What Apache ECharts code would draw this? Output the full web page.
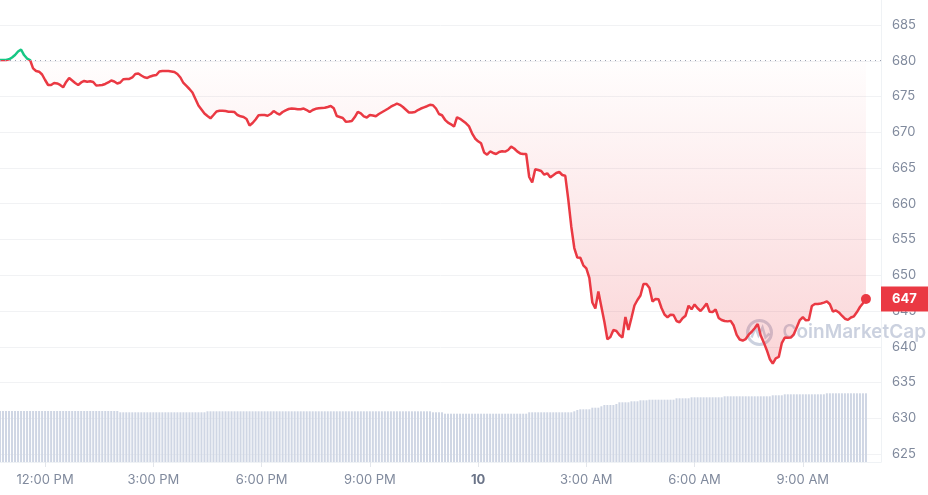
<!DOCTYPE html>
<html>
<head>
<meta charset="utf-8">
<script src="https://cdn.jsdelivr.net/npm/echarts@6/dist/echarts.min.js"></script>
<style>
html,body{margin:0;padding:0;background:#ffffff;}
#chart{width:928px;height:495px;}
</style>
</head>
<body>
<div id="chart"></div>
<script>
// ---- data (5-minute samples, 10:45 AM Jun 9 -> 10:45 AM Jun 10) ----
const startYear = 2024, startMonth = 6, startDay = 9, startHour = 10, startMinute = 45;
const stepMinutes = 5;
const axisSlotCount = 294; // axis extends a little past the last sample

const prices = [
  680.10,680.10,680.10,680.20,680.45,680.80,681.29,681.57,680.80,680.31,
  680.10,678.94,678.57,678.47,678.08,677.31,676.61,676.61,676.89,676.82,
  676.61,676.29,677.03,677.59,677.24,676.89,676.61,676.96,677.17,677.07,
  677.13,677.03,676.54,676.57,676.61,676.75,676.96,677.24,677.10,676.82,
  676.96,677.41,677.45,677.45,677.66,678.15,678.22,677.94,677.69,677.59,
  677.80,677.94,678.01,678.50,678.57,678.57,678.57,678.50,678.43,678.15,
  677.66,676.89,676.47,676.05,675.56,674.65,673.74,673.18,672.62,672.27,
  671.95,672.41,672.90,673.00,673.01,672.97,672.87,672.87,672.83,672.41,
  672.23,672.13,671.85,670.94,671.29,671.78,672.37,672.41,672.41,672.31,
  672.55,672.97,672.69,672.48,672.83,673.07,673.25,673.32,673.28,673.22,
  673.21,673.32,673.11,672.83,673.11,673.28,673.35,673.39,673.42,673.53,
  673.67,673.35,672.27,672.13,671.99,671.48,671.50,671.57,672.13,672.86,
  672.65,672.23,672.06,672.41,672.34,672.23,672.55,672.80,673.04,673.29,
  673.57,673.78,674.01,673.84,673.53,673.15,672.76,672.76,672.83,673.11,
  673.32,673.48,673.64,673.84,673.78,673.32,672.55,672.38,671.74,671.34,
  671.11,670.80,672.10,671.88,671.57,671.25,670.82,669.85,669.13,668.73,
  668.45,667.17,666.86,667.31,667.10,666.96,667.24,667.35,667.29,667.52,
  667.98,667.73,667.32,667.04,666.96,666.96,663.74,662.97,664.82,664.72,
  664.58,664.06,664.26,663.69,663.99,664.30,664.44,664.02,663.91,660.59,
  656.79,653.81,652.47,652.44,651.39,650.97,649.62,646.19,645.35,647.73,
  645.60,643.49,641.04,641.36,642.34,642.20,641.64,641.29,644.16,642.34,
  644.02,645.77,646.54,647.17,648.78,648.78,648.22,646.33,646.68,646.65,
  645.42,644.51,644.12,644.47,644.44,643.60,643.42,643.98,644.34,645.74,
  645.24,645.92,645.39,645.00,645.49,646.05,644.90,644.87,645.21,644.03,
  643.74,643.60,643.55,643.62,642.97,641.66,641.01,640.87,641.08,641.69,
  642.10,642.59,643.18,641.57,640.61,639.55,638.29,637.63,638.38,638.58,
  640.50,641.28,641.25,641.28,641.74,642.73,643.73,644.13,643.70,643.74,
  645.70,645.98,645.98,646.06,646.17,646.34,645.94,644.92,645.08,644.80,
  644.34,643.92,643.76,644.09,644.26,644.85,645.56,646.09,646.68
];

// trading volume (relative units)
const volumes = [
  510,510,510,510,510,510,510,510,510,510,510,510,510,510,510,510,510,510,510,510,
  510,510,510,510,510,510,510,510,510,510,510,510,510,510,510,510,510,510,510,510,
  497,497,497,497,497,497,497,497,497,497,497,497,497,497,497,497,497,497,497,497,
  497,497,497,497,497,497,497,497,497,507,507,507,507,507,507,507,507,507,507,507,
  507,507,507,507,507,507,507,507,507,507,507,507,507,507,507,507,507,507,507,507,
  507,507,507,507,507,507,507,507,507,507,507,507,507,507,507,507,507,507,507,507,
  507,507,507,507,507,507,507,507,507,507,507,507,507,507,507,507,507,507,507,507,
  507,507,507,507,497,497,497,497,483,483,483,483,483,483,483,483,483,483,483,483,
  483,483,483,483,483,483,483,483,483,483,483,483,483,483,483,483,497,497,497,497,
  497,497,497,497,497,497,497,497,497,497,497,507,520,527,527,527,527,543,543,543,
  557,570,570,570,570,580,597,597,597,597,607,607,607,617,617,617,623,623,623,623,
  623,623,623,623,623,637,637,637,637,637,647,647,647,647,647,647,647,647,647,647,
  647,657,657,657,657,657,657,657,657,657,657,657,657,657,657,657,657,667,667,667,
  667,677,677,677,677,677,677,677,677,677,677,677,677,677,677,687,687,687,687,687,
  687,687,687,687,687,687,687,687,687
];

const tickTimes  = ['2024-06-09 12:00','2024-06-09 15:00','2024-06-09 18:00','2024-06-09 21:00',
                    '2024-06-10 00:00','2024-06-10 03:00','2024-06-10 06:00','2024-06-10 09:00'];
const tickLabels = ['12:00 PM','3:00 PM','6:00 PM','9:00 PM','10','3:00 AM','6:00 AM','9:00 AM'];
const dayLabels  = ['10'];
const watermarkText = 'CoinMarketCap';

const priceMin = 625, priceMax = 685, priceStep = 5;
const volumeAxisMax = 4620;

// ---- build ----
function pad(n){ return n < 10 ? '0' + n : '' + n; }
const t0 = new Date(startYear, startMonth - 1, startDay, startHour, startMinute).getTime();
const categories = [];
for (let i = 0; i < axisSlotCount; i++) {
  const d = new Date(t0 + i * stepMinutes * 60000);
  categories.push(d.getFullYear() + '-' + pad(d.getMonth() + 1) + '-' + pad(d.getDate()) + ' ' + pad(d.getHours()) + ':' + pad(d.getMinutes()));
}
const basePrice = prices[0];
const lastPrice = prices[prices.length - 1];
const lastCategory = categories[prices.length - 1];

const RED = '#ea3943', GREEN = '#16c784';
const LABEL = '#808a9d';
const FONT = 'Inter, "Noto Sans", sans-serif';
const WM = 'rgba(160,172,196,0.55)';

function isTick(idx, val) { return tickTimes.indexOf(val) >= 0; }

const chart = echarts.init(document.getElementById('chart'), null, {renderer: 'canvas'});
chart.setOption({
  animation: false,
  backgroundColor: '#ffffff',
  graphic: [
    {type: 'group', left: 745, top: 318, z: 2, silent: true, children: [
      {type: 'circle', shape: {cx: 13, cy: 14, r: 12}, style: {fill: 'none', stroke: WM, lineWidth: 3}},
      {type: 'polyline', shape: {points: [[5, 19], [9, 9], [12, 17], [16, 9], [19, 19], [23, 15]]},
        style: {fill: 'none', stroke: WM, lineWidth: 2.5}},
      {type: 'text', x: 36, y: 14, style: {text: watermarkText, fill: WM, font: '600 19px Inter, sans-serif',
        verticalAlign: 'middle', align: 'left'}}
    ]}
  ],
  grid: [
    {left: 0, right: 47, top: 25, bottom: 41},
    {left: 0, right: 47, top: 0, bottom: 33}
  ],
  xAxis: [
    {type: 'category', gridIndex: 0, data: categories, boundaryGap: false, show: false},
    {type: 'category', gridIndex: 1, data: categories, boundaryGap: false,
      axisLine: {show: true, lineStyle: {color: '#eff2f5'}},
      axisTick: {show: true, interval: isTick, length: 5, lineStyle: {color: '#e3e6eb'}},
      axisLabel: {
        interval: isTick, margin: 12, color: LABEL, fontSize: 13, fontFamily: FONT,
        formatter: function (val) {
          const k = tickTimes.indexOf(val);
          if (k < 0) return '';
          const t = tickLabels[k];
          return dayLabels.indexOf(t) >= 0 ? '{b|' + t + '}' : t;
        },
        rich: {b: {fontWeight: 'bold', color: '#6b7488', fontSize: 13, fontFamily: FONT}}
      },
      splitLine: {show: false}
    }
  ],
  yAxis: [
    {type: 'value', gridIndex: 0, position: 'right', min: priceMin, max: priceMax, interval: priceStep,
      axisLine: {show: false}, axisTick: {show: false},
      axisLabel: {color: LABEL, fontSize: 13, fontFamily: FONT, margin: 11},
      splitLine: {show: true, lineStyle: {color: '#f1f2f4', width: 1}}
    },
    {type: 'value', gridIndex: 1, position: 'right', min: 0, max: volumeAxisMax,
      axisLine: {show: true, lineStyle: {color: '#eff2f5'}}, axisTick: {show: false},
      axisLabel: {show: false}, splitLine: {show: false}
    }
  ],
  visualMap: {
    show: false, type: 'piecewise', seriesIndex: 1, dimension: 1,
    pieces: [
      {gt: 0, lte: basePrice, color: RED},
      {gt: basePrice, lte: 100000, color: GREEN}
    ],
    outOfRange: {color: RED}
  },
  series: [
    {
      type: 'bar', xAxisIndex: 1, yAxisIndex: 1, data: volumes, barWidth: 2,
      itemStyle: {color: '#cfd6e4'}, silent: true, z: 1
    },
    {
      type: 'line', xAxisIndex: 0, yAxisIndex: 0, data: prices,
      showSymbol: false, smooth: false, z: 3,
      lineStyle: {width: 2.5},
      areaStyle: {
        origin: basePrice,
        color: {type: 'linear', x: 0, y: 0, x2: 0, y2: 1,
          colorStops: [{offset: 0, color: 'rgba(234,57,67,0.0)'}, {offset: 1, color: 'rgba(234,57,67,0.3)'}]}
      },
      markLine: {
        silent: true, symbol: 'none', animation: false,
        data: [
          {yAxis: basePrice, lineStyle: {type: [1, 4], color: '#9aa1b2', width: 1}, label: {show: false}},
          {yAxis: lastPrice, lineStyle: {color: 'rgba(0,0,0,0)', width: 0},
            label: {show: true, position: 'end', distance: 0, opacity: 1,
              formatter: function () { return String(Math.round(lastPrice)); },
              backgroundColor: RED, color: '#ffffff', fontWeight: 'bold', fontSize: 13, fontFamily: FONT,
              lineHeight: 13, padding: [6, 12, 6, 11]}}
        ]
      },
      markPoint: {
        silent: true, symbol: 'circle', symbolSize: 10, animation: false,
        itemStyle: {color: RED},
        label: {show: false},
        data: [{coord: [lastCategory, lastPrice]}]
      }
    }
  ]
});
</script>
</body>
</html>
